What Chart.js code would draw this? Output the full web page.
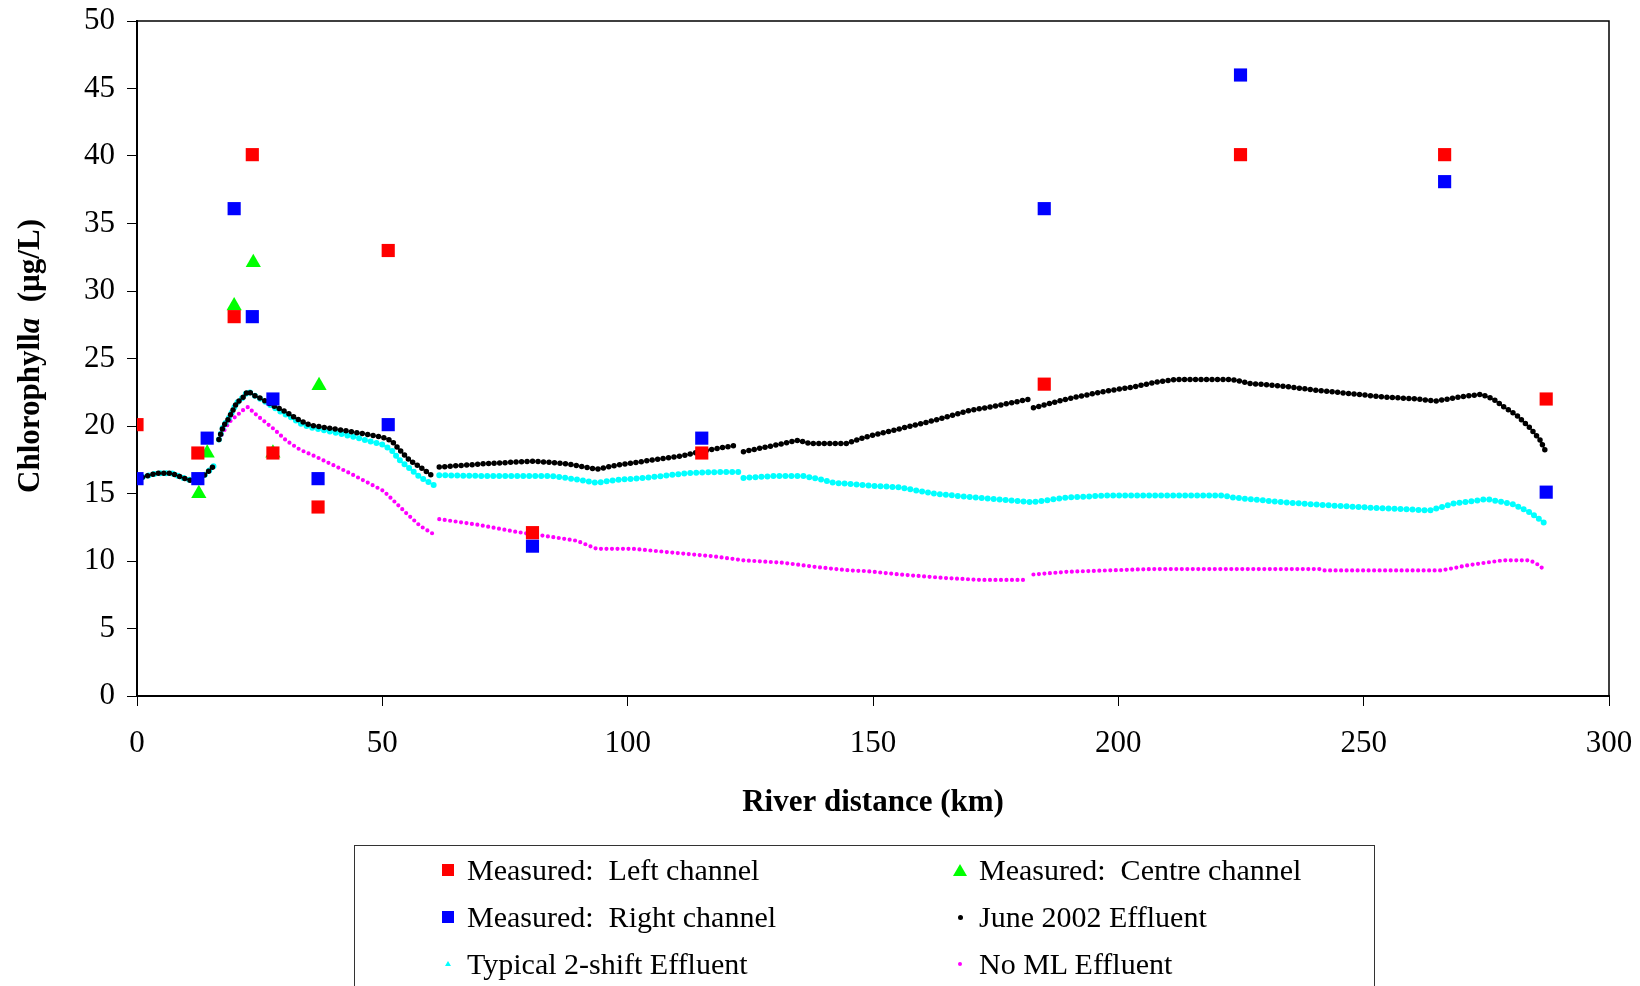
<!DOCTYPE html>
<html lang="en">
<head>
    <meta charset="UTF-8">
    <title>Chlorophyll a</title>
    <script src="https://cdn.jsdelivr.net/npm/chart.js@4/dist/chart.umd.min.js"></script>
    <style>
        body { margin: 0; background: #fff; overflow: hidden; }
        .quadro { position: relative; width: 1640px; height: 986px; }
        .serif { font-family: 'Liberation Serif', 'Times New Roman', serif; color: #000; }
        #ytitle {
            position: absolute; left: -171px; top: 338px; width: 400px; height: 36px;
            line-height: 36px; text-align: center; font-size: 31px; font-weight: bold;
            transform: rotate(-90deg); white-space: pre;
        }
        #legenda {
            position: absolute; left: 354px; top: 845px; width: 1021px; height: 160px;
            border: 1px solid #333; box-sizing: border-box;
        }
        .item { position: absolute; font-size: 30px; line-height: 34px; height: 34px; white-space: pre; }
        .mk { position: absolute; }
    </style>
</head>
<body>
<div class="quadro">
    <canvas id="grafico" width="1640" height="986"></canvas>
    <div id="ytitle" class="serif">Chlorophyll<i>a</i>  (µg/L)</div>
    <div id="legenda" class="serif"></div>
</div>

<script>
    // measured points (km, ug/L)
    const leftKm  = [0, 12.4, 19.8, 23.5, 27.7, 36.9, 51.2, 80.6, 115.1, 184.9, 224.9, 266.5, 287.2]
    const leftVal = [20.1, 18, 28.1, 40.1, 18, 14, 33, 12.1, 18, 23.1, 40.1, 40.1, 22]

    const rightKm  = [0, 12.4, 14.3, 19.8, 23.5, 27.7, 36.9, 51.2, 80.6, 115.1, 184.9, 224.9, 266.5, 287.2]
    const rightVal = [16.1, 16.1, 19.1, 36.1, 28.1, 22, 16.1, 20.1, 11.1, 19.1, 36.1, 46, 38.1, 15.1]

    const centreKm  = [12.6, 14.3, 19.8, 23.7, 27.7, 37.1]
    const centreVal = [15, 18, 28.9, 32.1, 18, 23]

    // model runs, null = break in the line
    const juneKm  = [0, 2, 4, 7, 9.1, 11.5, 12.8, 14.2, 15.8, 16.2, 16.7, 17.6, 18.6, 20.3, 21.7, 22.6, 23.7, 25.7, 27.8, 29.5, 31.2, 33.2, 35.3, 40, 44.1, 48.2, 50.2, 51.9, 53.6, 55.6, 57.7, 60.6, 61, 61.6, 70.6, 80.8, 87.6, 93.7, 97.8, 104.5, 111.3, 116.1, 122.5, 123, 123.6, 129.7, 134.8, 137.2, 144.6, 148.7, 155.5, 162.3, 169.1, 175.9, 182, 182.3, 182.7, 189.5, 196.2, 203.1, 208.5, 211.9, 223.1, 226.9, 233.6, 240.4, 247.2, 254, 260.8, 264.8, 269.6, 274, 276.4, 278.4, 281.2, 283.9, 285.9, 287.1]
    const juneVal = [16.1, 16.3, 16.5, 16.5, 16.2, 15.9, 16.1, 16.5, 17.1, null, 19, 20, 20.5, 21.7, 22.15, 22.6, 22.3, 21.95, 21.5, 21.2, 20.85, 20.4, 20.05, 19.8, 19.55, 19.3, 19.15, 18.9, 18.2, 17.45, 16.96, 16.2, null, 16.96, 17.2, 17.4, 17.2, 16.8, 17.1, 17.45, 17.8, 18.2, 18.6, null, 18.1, 18.55, 18.95, 18.7, 18.7, 19.2, 19.8, 20.4, 21.1, 21.55, 22, null, 21.35, 22, 22.5, 22.9, 23.3, 23.45, 23.45, 23.15, 22.95, 22.65, 22.4, 22.15, 22, 21.85, 22.15, 22.35, 22, 21.45, 20.8, 19.85, 19, 18.1]

    const twoShiftKm  = [0, 2, 4, 7, 9.1, 11.5, 12.8, 14.2, 15.8, 16.2, 16.7, 17.6, 18.6, 20.3, 21.7, 22.6, 23.7, 25.7, 27.8, 29.5, 31.2, 33.2, 35.3, 40, 44.1, 48.2, 50.2, 51.9, 53.6, 55.6, 57.7, 60.6, 61, 61.6, 70, 84.2, 87.6, 93.7, 97.8, 104.5, 112, 118.8, 122.9, 123.2, 123.6, 130, 135.8, 139.9, 141.9, 145.3, 148.7, 155.5, 162.3, 169.1, 175.9, 182.3, 189.5, 197.6, 210, 221.3, 223.4, 233.6, 243.8, 254, 263.5, 268.3, 274.4, 275.7, 280.5, 283.9, 287.1]
    const twoShiftVal = [16.1, 16.3, 16.5, 16.5, 16.2, 15.9, 16.1, 16.5, 17.1, null, 19, 20, 20.5, 21.7, 22.15, 22.6, 22.3, 21.9, 21.4, 21, 20.7, 20.2, 19.9, 19.55, 19.2, 18.8, 18.6, 18.2, 17.45, 16.85, 16.2, 15.6, null, 16.35, 16.3, 16.3, 16.15, 15.8, 16, 16.2, 16.5, 16.6, 16.6, null, 16.15, 16.3, 16.3, 16, 15.8, 15.7, 15.6, 15.45, 15, 14.75, 14.55, 14.35, 14.7, 14.85, 14.85, 14.85, 14.7, 14.35, 14.1, 13.9, 13.75, 14.25, 14.55, 14.55, 14.2, 13.6, 12.75]

    const noMlKm  = [0, 2, 4, 7, 9.1, 11.5, 12.8, 14.2, 15.8, 16.2, 16.7, 18.8, 21.7, 22.6, 24.4, 27.8, 30.5, 33.2, 36.6, 40, 43.4, 46.8, 50.2, 52.2, 55, 57.7, 60.6, 61, 61.6, 69.2, 77.4, 84.2, 89.6, 93.7, 101.1, 111.3, 117.4, 123.6, 131.7, 138.5, 145.3, 148.7, 155.5, 164.3, 171.8, 181.4, 182, 182.7, 189.5, 197.6, 206.4, 241, 242, 265.6, 268.3, 271, 274.4, 278.4, 283.9, 285.6, 287]
    const noMlVal = [16.1, 16.3, 16.5, 16.5, 16.2, 15.9, 16.1, 16.5, 17.1, null, 19, 20.3, 21.2, 21.4, 20.8, 19.8, 18.9, 18.25, 17.7, 17.1, 16.5, 15.85, 15.2, 14.5, 13.5, 12.6, 11.95, null, 13.1, 12.7, 12.15, 11.8, 11.5, 10.9, 10.9, 10.55, 10.35, 10.05, 9.87, 9.55, 9.3, 9.25, 9, 8.75, 8.6, 8.6, null, 9, 9.2, 9.3, 9.4, 9.4, 9.3, 9.3, 9.47, 9.67, 9.85, 10.05, 10.05, 9.72, 9.3]

    const xTicks = [0, 50, 100, 150, 200, 250, 300]
    const yTicks = [0, 5, 10, 15, 20, 25, 30, 35, 40, 45, 50]

    const fonte = "'Liberation Serif', 'Times New Roman', serif"

    function pares(km, val) {
        return km.map(function(k, i) { return {x: k, y: val[i]} })
    }

    function pontos(label, km, val, cor, estilo, raio) {
        return {
            label: label, data: pares(km, val), showLine: false,
            pointStyle: estilo, pointRadius: raio, pointHoverRadius: raio,
            backgroundColor: cor, borderColor: cor, borderWidth: 0
        }
    }

    function pontilhado(label, km, val, cor, largura, passo) {
        return {
            label: label, data: pares(km, val), showLine: true, spanGaps: false,
            borderColor: cor, backgroundColor: cor, borderWidth: largura,
            borderDash: [0, passo], borderCapStyle: 'round', borderJoinStyle: 'round',
            pointRadius: 0, pointHoverRadius: 0, tension: 0
        }
    }

    // frame on top and right
    const moldura = {
        id: 'moldura',
        afterDraw(chart) {
            const a = chart.chartArea, ctx = chart.ctx
            ctx.save()
            ctx.strokeStyle = '#000'
            ctx.lineWidth = 1.5
            ctx.beginPath()
            ctx.moveTo(a.left, a.top)
            ctx.lineTo(a.right, a.top)
            ctx.lineTo(a.right, a.bottom)
            ctx.stroke()
            ctx.restore()
        }
    }

    new Chart(document.getElementById('grafico'), {
        type: 'scatter',
        data: {
            datasets: [
                pontos('Measured:  Left channel', leftKm, leftVal, '#ff0000', 'rect', 9.3),
                pontos('Measured:  Centre channel', centreKm, centreVal, '#00ff00', 'triangle', 8.8),
                pontos('Measured:  Right channel', rightKm, rightVal, '#0000ff', 'rect', 9.3),
                pontilhado('June 2002 Effluent', juneKm, juneVal, '#000000', 5.5, 5.5),
                pontilhado('Typical 2-shift Effluent', twoShiftKm, twoShiftVal, '#00ffff', 6, 6),
                pontilhado('No ML Effluent', noMlKm, noMlVal, '#ff00ff', 4.2, 5.5)
            ]
        },
        options: {
            responsive: false,
            animation: false,
            layout: { padding: { left: 0, right: 31, top: 21, bottom: 160 } },
            plugins: { legend: { display: false }, tooltip: { enabled: false } },
            scales: {
                x: {
                    type: 'linear', min: 0, max: 300,
                    afterBuildTicks: function(s) { s.ticks = xTicks.map(function(v) { return {value: v} }) },
                    afterFit: function(s) { s.height = 130; s.paddingLeft = 0; s.paddingRight = 0 },
                    ticks: { color: '#000', font: { family: fonte, size: 31 }, padding: 19, maxRotation: 0 },
                    grid: { drawOnChartArea: false, drawTicks: true, tickLength: 10, color: '#000', lineWidth: 1 },
                    border: { display: true, color: '#000', width: 2 },
                    title: { display: true, text: 'River distance (km)', color: '#000',
                             font: { family: fonte, size: 31, weight: 'bold' }, padding: { top: 0, bottom: 4 } }
                },
                y: {
                    type: 'linear', min: 0, max: 50,
                    afterBuildTicks: function(s) { s.ticks = yTicks.map(function(v) { return {value: v} }) },
                    afterFit: function(s) { s.width = 137; s.paddingTop = 0; s.paddingBottom = 0 },
                    ticks: { color: '#000', font: { family: fonte, size: 31 }, padding: 12 },
                    grid: { drawOnChartArea: false, drawTicks: true, tickLength: 10, color: '#000', lineWidth: 1 },
                    border: { display: true, color: '#000', width: 2 }
                }
            }
        },
        plugins: [moldura]
    })

    // legend in two columns
    const itensLegenda = [
        {texto: 'Measured:  Left channel', col: 0, lin: 0, tipo: 'quad', cor: '#ff0000', tam: 12},
        {texto: 'Measured:  Centre channel', col: 1, lin: 0, tipo: 'tri', cor: '#00ff00', tam: 14},
        {texto: 'Measured:  Right channel', col: 0, lin: 1, tipo: 'quad', cor: '#0000ff', tam: 12},
        {texto: 'June 2002 Effluent', col: 1, lin: 1, tipo: 'bola', cor: '#000000', tam: 5},
        {texto: 'Typical 2-shift Effluent', col: 0, lin: 2, tipo: 'tri', cor: '#00ffff', tam: 6},
        {texto: 'No ML Effluent', col: 1, lin: 2, tipo: 'bola', cor: '#ff00ff', tam: 4}
    ]
    const legenda = document.getElementById('legenda')
    itensLegenda.forEach(function(it) {
        const cx = it.col === 0 ? 93 : 605       // marker centre, relative to the box
        const cy = 24 + it.lin * 47
        const mk = document.createElement('div')
        mk.className = 'mk'
        const t = it.tam
        if (it.tipo === 'tri') {
            mk.style.cssText = `left:${cx - t / 2}px;top:${cy - t * 0.45}px;width:0;height:0;` +
                `border-left:${t / 2}px solid transparent;border-right:${t / 2}px solid transparent;border-bottom:${t * 0.9}px solid ${it.cor}`
        } else {
            mk.style.cssText = `left:${cx - t / 2}px;top:${cy - t / 2}px;width:${t}px;height:${t}px;background:${it.cor};` +
                (it.tipo === 'bola' ? 'border-radius:50%' : '')
        }
        legenda.appendChild(mk)
        const tx = document.createElement('div')
        tx.className = 'item'
        tx.style.left = (cx + 19) + 'px'
        tx.style.top = (cy - 17) + 'px'
        tx.textContent = it.texto
        legenda.appendChild(tx)
    })
</script>
</body>
</html>
